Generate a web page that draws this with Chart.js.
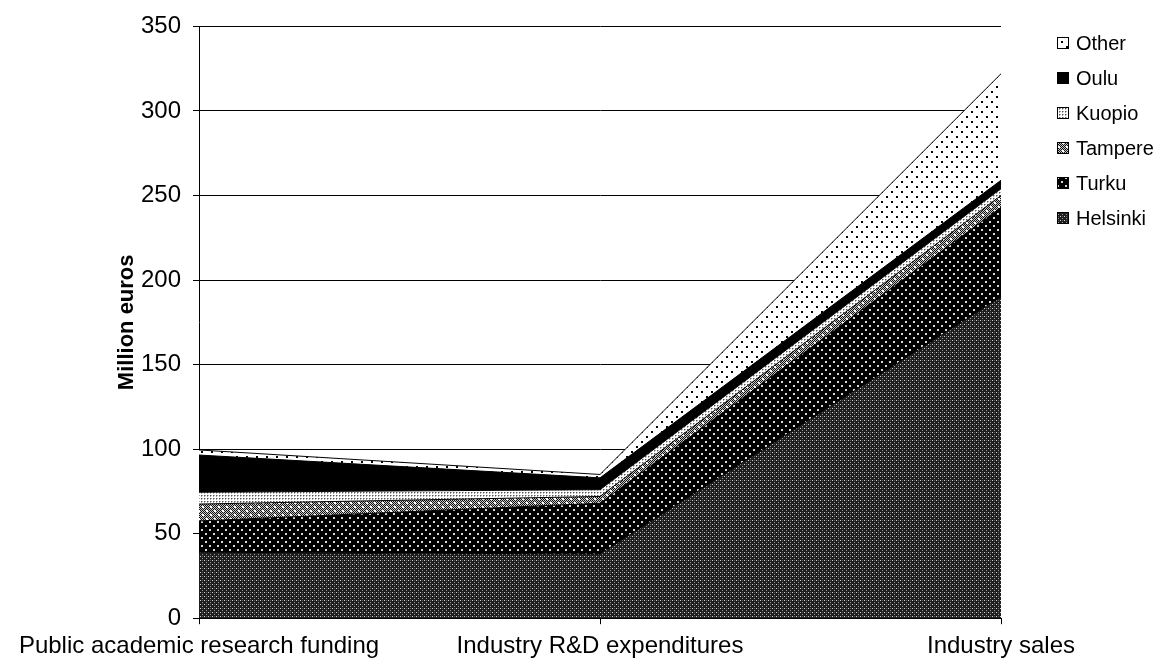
<!DOCTYPE html>
<html>
<head>
<meta charset="utf-8">
<script src="https://cdn.jsdelivr.net/npm/chart.js@4.4.0/dist/chart.umd.min.js"></script>
<style>
  html, body { margin: 0; padding: 0; background: #fff; }
  #wrap { width: 1165px; height: 669px; position: relative; }
</style>
</head>
<body>
<div id="wrap"><canvas id="regionChart"></canvas></div>
<script>
const categories = [
  "Public academic research funding",
  "Industry R&D expenditures",
  "Industry sales",
];
const helsinki = [39, 38, 190];
const turku = [18.5, 30, 53];
const tampere = [10, 4, 7];
const kuopio = [7, 4, 4];
const oulu = [22, 7, 5];
const other = [3, 2, 63];
const yTicks = [0, 50, 100, 150, 200, 250, 300, 350];

const FONT = "Liberation Sans, Arial, sans-serif";

// small tiled fills, roughly like the old Excel hatch patterns
function makePattern(size, bg, dots) {
  const c = document.createElement("canvas");
  c.width = size;
  c.height = size;
  const g = c.getContext("2d");
  g.fillStyle = bg;
  g.fillRect(0, 0, size, size);
  dots.forEach(([x, y, col, w]) => {
    g.fillStyle = col;
    g.fillRect(x, y, w || 1, w || 1);
  });
  return g.createPattern(c, "repeat");
}

const helsinkiFill = makePattern(4, "#1e1e1e", [
  [0, 0, "#d0d0d0"], [2, 2, "#9a9a9a"], [2, 0, "#5a5a5a"],
]);
const turkuFill = makePattern(8, "#000000", [
  [1, 1, "#d8d8d8", 2], [5, 5, "#d8d8d8", 2],
]);
// grey checker with white dots
const tampDots = [];
for (let y = 0; y < 8; y++) {
  for (let x = 0; x < 8; x++) {
    if ((x + y) % 2 === 0) tampDots.push([x, y, "#111111"]);
  }
}
tampDots.push([2, 2, "#ffffff", 2], [6, 6, "#ffffff", 2]);
const tampereFill = makePattern(8, "#c8c8c8", tampDots);
const kuopioFill = makePattern(3, "#ffffff", [
  [0, 0, "#555555"], [1, 0, "#aaaaaa"], [0, 1, "#aaaaaa"],
]);
const ouluFill = "#000000";
const otherFill = makePattern(10, "#ffffff", [
  [1, 1, "#000000", 2], [6, 6, "#000000", 2],
]);

function areaSet(label, data, fill, first) {
  return {
    label: label,
    data: data,
    backgroundColor: fill,
    borderColor: "#000000",
    borderWidth: 1,
    pointRadius: 0,
    tension: 0,
    fill: first ? "origin" : "-1",
  };
}

// legend drawn by hand so it can sit where the original has it
const sideLegend = {
  id: "sideLegend",
  afterDraw(chart) {
    const g = chart.ctx;
    const sets = chart.data.datasets.slice().reverse();
    g.save();
    g.font = "20px " + FONT;
    g.textBaseline = "middle";
    g.textAlign = "left";
    sets.forEach((ds, i) => {
      const y = 43 + i * 35;
      g.fillStyle = ds.backgroundColor;
      g.fillRect(1057, y - 6, 12, 12);
      g.strokeStyle = "#000";
      g.lineWidth = 1;
      g.strokeRect(1057.5, y - 5.5, 11, 11);
      g.fillStyle = "#000";
      g.fillText(ds.label, 1076, y + 1);
    });
    g.restore();
  },
};

const ctx = document.getElementById("regionChart");
new Chart(ctx, {
  type: "line",
  data: {
    labels: categories,
    datasets: [
      areaSet("Helsinki", helsinki, helsinkiFill, true),
      areaSet("Turku", turku, turkuFill),
      areaSet("Tampere", tampere, tampereFill),
      areaSet("Kuopio", kuopio, kuopioFill),
      areaSet("Oulu", oulu, ouluFill),
      areaSet("Other", other, otherFill),
    ],
  },
  plugins: [sideLegend],
  options: {
    responsive: true,
    maintainAspectRatio: false,
    animation: false,
    layout: {
      padding: { top: 9, right: 164, bottom: 0, left: 114 },
    },
    plugins: {
      legend: { display: false },
      tooltip: { enabled: false },
    },
    scales: {
      x: {
        offset: false,
        grid: {
          display: true,
          drawOnChartArea: false,
          color: "#000",
          tickLength: 6,
        },
        border: { color: "#000", width: 1 },
        ticks: {
          color: "#000",
          font: { family: FONT, size: 24 },
          maxRotation: 0,
          autoSkip: false,
          padding: 8,
        },
      },
      y: {
        stacked: true,
        min: 0,
        max: 350,
        afterBuildTicks: (scale) => {
          scale.ticks = yTicks.map((v) => ({ value: v }));
        },
        afterFit: (scale) => {
          scale.width = 85;
        },
        grid: {
          color: "#000",
          tickLength: 6,
        },
        border: { color: "#000", width: 1 },
        ticks: {
          color: "#000",
          font: { family: FONT, size: 24 },
          padding: 12,
        },
        title: {
          display: true,
          text: "Million euros",
          color: "#000",
          font: { family: FONT, size: 22, weight: "bold" },
          padding: { top: 0, bottom: 0 },
        },
      },
    },
  },
});
</script>
</body>
</html>
